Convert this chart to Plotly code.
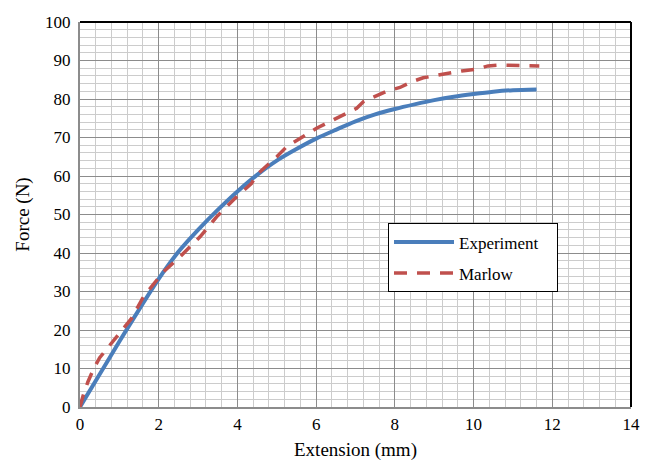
import plotly.graph_objects as go

# Experimental force-extension measurements
exp_ext = [0, 0.5, 1.0, 1.5, 2.0, 2.5, 3.0, 3.5, 4.0, 4.5, 5.0, 5.5, 6.0, 6.5,
           7.0, 7.5, 8.0, 8.5, 9.0, 9.5, 10.0, 10.5, 11.0, 11.6]
exp_force = [0, 8.5, 17.0, 25.3, 33.3, 40.3, 46.0, 51.2, 56.0, 60.3, 64.0, 67.0,
             69.7, 72.0, 74.2, 76.0, 77.4, 78.6, 79.7, 80.6, 81.3, 81.9, 82.3, 82.5]

# Marlow hyperelastic model prediction
mar_ext = [0, 0.08, 0.2, 0.35, 0.5, 0.7, 1.0, 1.31, 1.61, 2.12, 2.54, 3.05, 3.47,
           3.94, 4.36, 4.49, 5.0, 5.25, 6.01, 6.39, 7.03, 7.2, 7.54, 7.79, 8.13,
           8.43, 8.72, 9.06, 9.4, 9.7, 10.06, 10.37, 10.67, 11.0, 11.35, 11.67]
mar_force = [0, 3.0, 6.5, 10.0, 12.8, 15.3, 19.0, 23.0, 28.6, 35.1, 39.0, 44.2,
             49.4, 54.2, 58.1, 60.3, 65.0, 67.6, 72.4, 74.3, 77.6, 79.3, 81.0,
             82.0, 83.0, 84.5, 85.5, 86.2, 86.8, 87.3, 87.7, 88.6, 88.8, 88.8,
             88.8, 88.6]

x_ticks = [0, 2, 4, 6, 8, 10, 12, 14]
y_ticks = [0, 10, 20, 30, 40, 50, 60, 70, 80, 90, 100]

FONT = "Liberation Serif"
TICK_FONT = dict(family=FONT, size=17, color="black")
PAD = "\u00a0" * 3

fig = go.Figure()
fig.add_trace(go.Scatter(
    x=exp_ext, y=exp_force, mode="lines", name="Experiment" + PAD,
    legendgroup="a",
    line=dict(color="#4a7ebb", width=4, shape="spline", smoothing=0.8)))
fig.add_trace(go.Scatter(
    x=mar_ext, y=mar_force, mode="lines", name="Marlow",
    legendgroup="b", line=dict(color="#c0504d", width=3.5, dash="13px,10px")))

fig.update_layout(
    width=652, height=461,
    margin=dict(l=80, r=21, t=22, b=54),
    paper_bgcolor="white", plot_bgcolor="white",
    font=dict(family=FONT, size=17, color="black"),
    showlegend=True,
    legend=dict(
        x=0.559, y=0.477, xanchor="left", yanchor="top",
        bgcolor="white", bordercolor="black", borderwidth=1,
        font=dict(family=FONT, size=17, color="black"),
        traceorder="grouped", tracegroupgap=6,
        itemwidth=60,
    ),
    xaxis=dict(
        range=[0, 14], tickvals=x_ticks, ticktext=[str(v) for v in x_ticks],
        tickfont=TICK_FONT, automargin=False,
        showgrid=True, gridcolor="#8c8c8c", gridwidth=1,
        minor=dict(dtick=0.4, showgrid=True, gridcolor="#cccccc", gridwidth=1),
        showline=True, linecolor="#8c8c8c", linewidth=2,
        zeroline=False, ticks="", ticklabelstandoff=1,
        title=dict(text="Extension (mm)", font=dict(family=FONT, size=19), standoff=22),
    ),
    yaxis=dict(
        range=[0, 100], tickvals=y_ticks, ticktext=[str(v) for v in y_ticks],
        tickfont=TICK_FONT, automargin=False,
        showgrid=True, gridcolor="#8c8c8c", gridwidth=1,
        minor=dict(dtick=2, showgrid=True, gridcolor="#cccccc", gridwidth=1),
        showline=True, linecolor="#8c8c8c", linewidth=2,
        zeroline=False, ticks="", ticklabelstandoff=4,
        title=dict(text="Force (N)", font=dict(family=FONT, size=19), standoff=10),
    ),
)

# Black frame along the top and right of the plot area
fig.add_shape(type="line", xref="paper", yref="paper", x0=0, x1=1, y0=1, y1=1,
              line=dict(color="black", width=2), layer="above")
fig.add_shape(type="line", xref="paper", yref="paper", x0=1, x1=1, y0=0, y1=1,
              line=dict(color="black", width=2), layer="above")

fig.write_html("out.html")
